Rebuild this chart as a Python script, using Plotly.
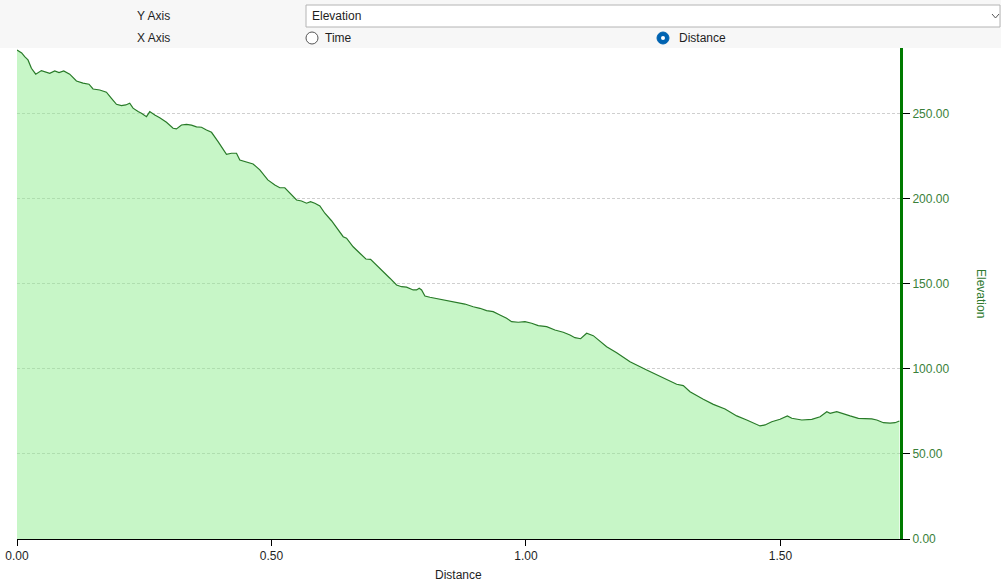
import plotly.graph_objects as go

# Distance (x) and Elevation (y)
distance = [0.0000, 0.0092, 0.0151, 0.0216, 0.0283, 0.0368, 0.0480, 0.0578, 0.0643, 0.0741,
            0.0826, 0.0918, 0.1036, 0.1168, 0.1297, 0.1415, 0.1494, 0.1626, 0.1757, 0.1856,
            0.1954, 0.2052, 0.2137, 0.2215, 0.2280, 0.2379, 0.2445, 0.2544, 0.2609, 0.2707,
            0.2805, 0.2937, 0.3067, 0.3133, 0.3232, 0.3330, 0.3428, 0.3527, 0.3625, 0.3723,
            0.3822, 0.3951, 0.4116, 0.4215, 0.4313, 0.4378, 0.4510, 0.4639, 0.4771, 0.4928,
            0.5066, 0.5164, 0.5262, 0.5361, 0.5493, 0.5591, 0.5689, 0.5768, 0.5852, 0.5951,
            0.6049, 0.6180, 0.6279, 0.6409, 0.6475, 0.6605, 0.6737, 0.6855, 0.6947, 0.7065,
            0.7195, 0.7327, 0.7458, 0.7556, 0.7655, 0.7785, 0.7851, 0.7903, 0.7950, 0.8015,
            0.8113, 0.8310, 0.8506, 0.8703, 0.8801, 0.8964, 0.9096, 0.9227, 0.9357, 0.9489,
            0.9621, 0.9719, 0.9849, 0.9981, 1.0112, 1.0242, 1.0407, 1.0570, 1.0733, 1.0865,
            1.0963, 1.1075, 1.1193, 1.1323, 1.1455, 1.1586, 1.1783, 1.2045, 1.2373, 1.2634,
            1.2962, 1.3092, 1.3224, 1.3485, 1.3682, 1.3912, 1.4142, 1.4339, 1.4600, 1.4698,
            1.4830, 1.4993, 1.5137, 1.5223, 1.5420, 1.5617, 1.5780, 1.5912, 1.5977, 1.6107,
            1.6237, 1.6369, 1.6532, 1.6697, 1.6795, 1.6894, 1.7024, 1.7155, 1.7253, 1.7338]

elevation = [287.6, 285.9, 283.7, 281.8, 276.9, 273.4, 275.5, 274.3, 273.9, 275.3,
             274.3, 275.3, 273.4, 269.4, 268.1, 267.5, 264.7, 264.1, 262.8, 259.2,
             255.7, 254.9, 255.3, 256.3, 253.4, 251.4, 250.4, 248.4, 251.4, 249.4,
             247.8, 245.1, 241.6, 241.2, 243.5, 243.9, 243.4, 242.4, 242.2, 240.6,
             239.2, 233.7, 226.3, 226.9, 226.9, 222.9, 221.9, 220.6, 217.1, 211.2,
             208.2, 206.6, 206.6, 203.4, 199.4, 198.8, 197.5, 198.4, 197.5, 195.9,
             191.6, 187.2, 182.8, 177.8, 176.9, 171.9, 168.1, 164.7, 164.5, 161.2,
             157.2, 153.4, 149.4, 148.4, 148.1, 146.5, 146.5, 147.5, 146.5, 142.9,
             142.2, 141.0, 140.0, 139.0, 138.2, 136.6, 135.7, 134.3, 133.7, 131.8,
             129.8, 127.8, 127.5, 127.8, 126.9, 125.5, 124.9, 122.9, 121.6, 120.0,
             118.4, 117.8, 121.0, 119.6, 116.6, 113.1, 109.6, 104.3, 99.4, 95.5,
             91.0, 90.2, 86.6, 82.2, 79.2, 76.5, 72.4, 70.0, 66.5, 67.1,
             69.0, 70.4, 72.4, 71.0, 70.0, 70.4, 71.9, 74.9, 73.9, 74.9,
             73.5, 72.4, 71.0, 71.0, 70.6, 70.0, 68.4, 68.1, 68.4, 69.4]

x_ticks = [0.0, 0.5, 1.0, 1.5]
x_tick_labels = ["0.00", "0.50", "1.00", "1.50"]
y_ticks = [0, 50, 100, 150, 200, 250]
y_tick_labels = ["0.00", "50.00", "100.00", "150.00", "200.00", "250.00"]
x_range = [0, 1.735]
y_range = [0, 288.8]

W, H = 1001, 585
ML, MR, MT, MB = 17, 101, 48, 46
PW, PH = W - ML - MR, H - MT - MB


def px(x):
    return (x - ML) / PW


def py(y):
    return (H - MB - y) / PH


FONT = "Liberation Sans, Arial, sans-serif"
GREEN_TXT = "#3a7f3a"

fig = go.Figure()
fig.add_trace(go.Scatter(
    x=distance, y=elevation, mode="lines",
    line=dict(color="#287a28", width=1.2),
    fill="tozeroy", fillcolor="rgba(144,238,144,0.5)",
    hoverinfo="skip", showlegend=False,
))

shapes = [
    # header background
    dict(type="rect", xref="paper", yref="paper", x0=px(0), x1=px(W), y0=py(48), y1=py(0),
         fillcolor="#f7f7f7", line=dict(width=0), layer="below"),
    # dropdown box
    dict(type="rect", xref="paper", yref="paper", x0=px(306), x1=px(1000), y0=py(27), y1=py(5),
         fillcolor="#ffffff", line=dict(color="#b4b4b4", width=1)),
    # chevron
    dict(type="path", xref="paper", yref="paper",
         path=f"M {px(992)},{py(14)} L {px(995.5)},{py(18)} L {px(999)},{py(14)}",
         line=dict(color="#555555", width=1)),
    # radio Time
    dict(type="circle", xref="paper", yref="paper", x0=px(306), x1=px(318), y0=py(44), y1=py(32),
         fillcolor="#ffffff", line=dict(color="#555555", width=1)),
    # radio Distance
    dict(type="circle", xref="paper", yref="paper", x0=px(657), x1=px(669), y0=py(44), y1=py(32),
         fillcolor="#0063b1", line=dict(color="#0063b1", width=1)),
    dict(type="circle", xref="paper", yref="paper", x0=px(661), x1=px(665), y0=py(40), y1=py(36),
         fillcolor="#ffffff", line=dict(color="#ffffff", width=0)),
]

ann = [
    dict(text="Y Axis", x=px(135), y=py(16), xanchor="left", yanchor="middle"),
    dict(text="X Axis", x=px(135), y=py(38), xanchor="left", yanchor="middle"),
    dict(text="Elevation", x=px(310), y=py(16), xanchor="left", yanchor="middle"),
    dict(text="Time", x=px(323), y=py(38), xanchor="left", yanchor="middle"),
    dict(text="Distance", x=px(677), y=py(38), xanchor="left", yanchor="middle"),
    dict(text="Distance", x=px(458), y=py(575), xanchor="center", yanchor="middle"),
]
annotations = []
for a in ann:
    a.update(xref="paper", yref="paper", showarrow=False,
             font=dict(family=FONT, size=12, color="#1e1e1e"))
    annotations.append(a)
annotations.append(dict(text="Elevation", x=px(981), y=py(293), xref="paper", yref="paper",
                        showarrow=False, textangle=90, xanchor="center", yanchor="middle",
                        font=dict(family=FONT, size=12, color="#2f7a2f")))

fig.update_layout(
    template="none",
    width=W, height=H, autosize=False,
    margin=dict(l=ML, r=MR, t=MT, b=MB, pad=0, autoexpand=False),
    paper_bgcolor="#ffffff", plot_bgcolor="#ffffff",
    font=dict(family=FONT, size=12, color="#1e1e1e"),
    shapes=shapes, annotations=annotations,
    xaxis=dict(range=x_range, tickvals=x_ticks, ticktext=x_tick_labels, automargin=False,
               showgrid=False, zeroline=False, showline=True, linecolor="#000000", linewidth=1,
               ticks="outside", ticklen=6, tickcolor="#000000", tickwidth=1,
               tickfont=dict(family=FONT, size=12, color="#1e1e1e")),
    yaxis=dict(range=y_range, tickvals=y_ticks, ticktext=y_tick_labels, side="right",
               automargin=False,
               showgrid=True, gridcolor="#cfcfcf", griddash="3px,2px", gridwidth=1,
               zeroline=False, showline=True, linecolor="#007a00", linewidth=3,
               ticks="outside", ticklen=7, tickcolor="#000000", tickwidth=1,
               tickfont=dict(family=FONT, size=12, color=GREEN_TXT)),
)

fig.write_html("out.html", config={"displayModeBar": False, "staticPlot": True},
               post_script="document.body.style.margin='0px';document.body.style.overflow='hidden';")
